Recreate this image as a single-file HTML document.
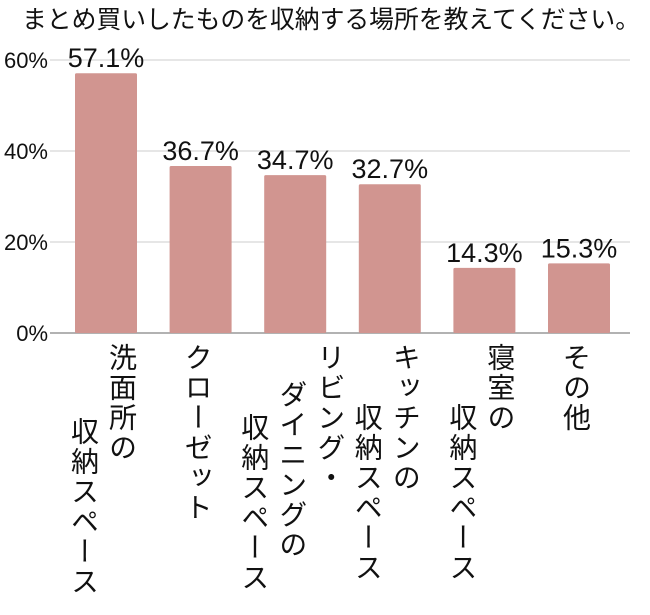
<!DOCTYPE html>
<html><head><meta charset="utf-8"><style>
html,body{margin:0;padding:0;background:#fff;}
svg{display:block;font-family:"Liberation Sans","Noto Sans CJK JP",sans-serif;}
</style></head><body>
<svg id="chart" width="650" height="615" viewBox="0 0 650 615" xmlns="http://www.w3.org/2000/svg">
<text x="331" y="28" text-anchor="middle" font-size="25" fill="#111" font-family="Noto Sans CJK JP, sans-serif" textLength="618" lengthAdjust="spacingAndGlyphs">まとめ買いしたものを収納する場所を教えてください。</text>
<g id="grid"></g><g id="bars"></g><g id="labels"></g>
</svg>
<script>
const categories = [["洗面所の","収納スペース"],["クローゼット"],["リビング・","ダイニングの","収納スペース"],["キッチンの","収納スペース"],["寝室の","収納スペース"],["その他"]];
const values = [57.1, 36.7, 34.7, 32.7, 14.3, 15.3];
const valueLabels = ["57.1%","36.7%","34.7%","32.7%","14.3%","15.3%"];
const ticks = [0, 20, 40, 60];
const tickLabels = ["0%","20%","40%","60%"];

const NS = "http://www.w3.org/2000/svg";
const y0 = 333, pxPer = 91/20;
const y = v => y0 - v*pxPer;
const barW = 62, x0 = 75, step = 94.6;
const x = i => x0 + i*step;
const colStarts = [[0,74],[0],[0,37,70],[0,60],[0,60],[0]];
function mk(tag, attrs, parent){const e=document.createElementNS(NS,tag);for(const k in attrs)e.setAttribute(k,attrs[k]);parent.appendChild(e);return e;}
const grid=document.getElementById('grid'), bars=document.getElementById('bars'), labels=document.getElementById('labels');
ticks.forEach((t,i)=>{
  const l=mk('line',{x1:50,x2:630,y1:y(t),y2:y(t),stroke:t===0?'#999':'#ccc','stroke-width':t===0?1.5:1},grid);
  
  
  const tx=mk('text',{x:48,y:y(t)+8,'text-anchor':'end','font-size':22,fill:'#111'},grid);
  tx.textContent=tickLabels[i];
  
  
});
values.forEach((v,i)=>{
  const r=mk('rect',{x:x(i),y:y(v),width:barW,height:y0-y(v),fill:'#d19590',rx:1.5},bars);
  
  
  const cx=x(i)+barW/2;
  const vt=mk('text',{x:cx,y:y(v)-6,'text-anchor':'middle','font-size':27,fill:'#111'},labels);
  vt.textContent=valueLabels[i];
  
  
  const cols=categories[i], n=cols.length;
  cols.forEach((c,k)=>{
    const lx=cx+(n-1)/2*38-k*38-2;
    const t=mk('text',{x:lx,y:343+(colStarts[i][k]||0),'font-size':28,fill:'#111',style:'writing-mode:vertical-rl;letter-spacing:2px','font-family':'Noto Sans CJK JP, sans-serif'},labels);
    t.textContent=c;
    
    
  });
});
</script>
</body></html>
